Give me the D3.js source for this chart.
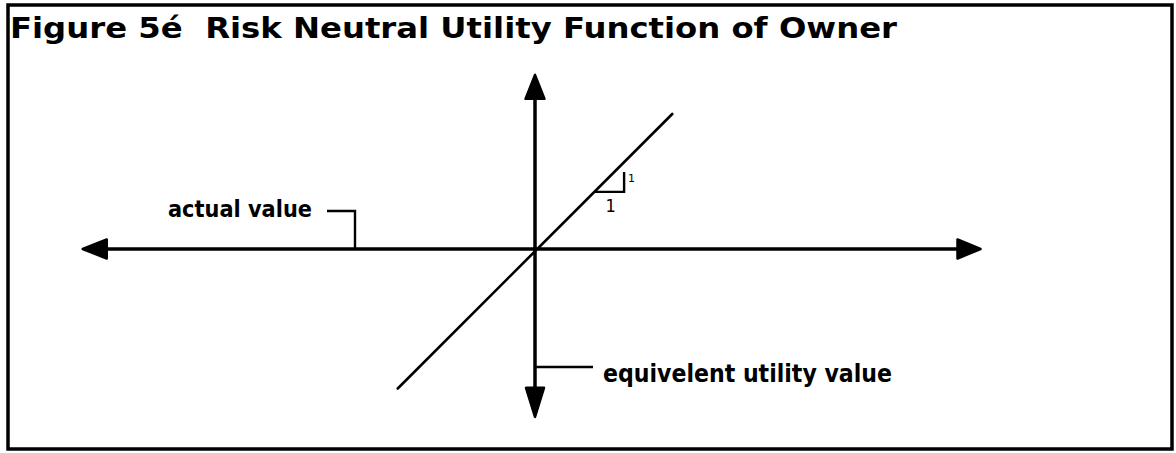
<!DOCTYPE html>
<html>
<head>
<meta charset="utf-8">
<script src="https://cdn.jsdelivr.net/npm/d3@7"></script>
<style>
  html, body { margin: 0; padding: 0; background: #fff; }
  svg { display: block; }
</style>
</head>
<body>
<svg id="chart" width="1176" height="453"></svg>
<script>
// ---- data ----
const titleText = "Figure 5é  Risk Neutral Utility Function of Owner";
const xAxisLabel = "actual value";
const yAxisLabel = "equivelent utility value";
const xAxisExtent = [-10.05, 9.9];   // actual value axis (units)
const yAxisExtent = [-3.73, 3.87];   // utility axis (units)
const utilityLine = [ { x: -3.05, y: -3.1 }, { x: 3.05, y: 3.0 } ]; // U = x (slope 1)
const slopeRun = [1.33, 1.98];       // horizontal leg of slope marker
const slopeRise = [1.27, 1.71];      // vertical leg of slope marker
const slopeLabels = ["1", "1"];

// ---- layout ----
const W = 1176, H = 453;
const unit = 45;
const origin = { x: 535, y: 249 };
const x = d3.scaleLinear().domain([0, 1]).range([origin.x, origin.x + unit]);
const y = d3.scaleLinear().domain([0, 1]).range([origin.y, origin.y - unit]);

const svg = d3.select("#chart");

// frame
svg.append("rect")
  .attr("x", 8).attr("y", 5)
  .attr("width", 1164).attr("height", 444)
  .attr("fill", "none").attr("stroke", "#000").attr("stroke-width", 3.5);

// title
svg.append("text")
  .attr("x", 10).attr("y", 38)
  .attr("font-family", "DejaVu Sans")
  .attr("font-weight", "bold")
  .attr("font-size", 28)
  .attr("textLength", 887)
  .attr("lengthAdjust", "spacingAndGlyphs")
  .attr("xml:space", "preserve")
  .style("white-space", "pre")
  .text(titleText);

const g = svg.append("g");

// arrowheads (filled triangles)
function arrowHead(tipX, tipY, dir, len, half) {
  let pts;
  if (dir === "left") pts = [[tipX, tipY], [tipX + len, tipY - half], [tipX + len, tipY + half]];
  if (dir === "right") pts = [[tipX, tipY], [tipX - len, tipY - half], [tipX - len, tipY + half]];
  if (dir === "up") pts = [[tipX, tipY], [tipX - half, tipY + len], [tipX + half, tipY + len]];
  if (dir === "down") pts = [[tipX, tipY], [tipX - half, tipY - len], [tipX + half, tipY - len]];
  g.append("path")
    .attr("d", "M" + pts.map(p => p.join(",")).join("L") + "Z")
    .attr("fill", "#000").attr("stroke", "#000").attr("stroke-width", 2.5)
    .attr("stroke-linejoin", "round");
}

// horizontal axis
g.append("line")
  .attr("x1", x(xAxisExtent[0]) + 10).attr("x2", x(xAxisExtent[1]) - 10)
  .attr("y1", y(0)).attr("y2", y(0))
  .attr("stroke", "#000").attr("stroke-width", 3.5);
arrowHead(x(xAxisExtent[0]), y(0), "left", 24, 9.5);
arrowHead(x(xAxisExtent[1]), y(0), "right", 23, 9.5);

// vertical axis
g.append("line")
  .attr("x1", x(0)).attr("x2", x(0))
  .attr("y1", y(yAxisExtent[1]) + 10).attr("y2", y(yAxisExtent[0]) - 10)
  .attr("stroke", "#000").attr("stroke-width", 3.5);
arrowHead(x(0), y(yAxisExtent[1]), "up", 24, 9.5);
arrowHead(x(0), y(yAxisExtent[0]), "down", 29, 9);

// utility line
g.append("path")
  .datum(utilityLine)
  .attr("d", d3.line().x(d => x(d.x)).y(d => y(d.y)))
  .attr("fill", "none").attr("stroke", "#000").attr("stroke-width", 2.6)
  .attr("stroke-linecap", "round");

// slope marker
g.append("path")
  .attr("d", `M${x(slopeRun[0])},${y(slopeRise[0])}L${x(slopeRun[1])},${y(slopeRise[0])}L${x(slopeRun[1])},${y(slopeRise[1])}`)
  .attr("fill", "none").attr("stroke", "#000").attr("stroke-width", 2.4);
g.append("text")
  .attr("x", x(slopeRun[1]) + 4).attr("y", y(slopeRise[1]) + 10)
  .attr("font-family", "DejaVu Sans").attr("font-size", 11)
  .text(slopeLabels[0]);
g.append("text")
  .attr("x", (x(slopeRun[0]) + x(slopeRun[1])) / 2 - 4).attr("y", y(slopeRise[0]) + 20)
  .attr("font-family", "DejaVu Sans Condensed").attr("font-size", 18)
  .text(slopeLabels[1]);

// actual value label with leader
g.append("text")
  .attr("x", 168).attr("y", 217)
  .attr("font-family", "DejaVu Sans").attr("font-weight", "bold").attr("font-size", 23)
  .attr("textLength", 144).attr("lengthAdjust", "spacingAndGlyphs")
  .text(xAxisLabel);
g.append("path")
  .attr("d", `M327,211L355,211L355,${y(0)}`)
  .attr("fill", "none").attr("stroke", "#000").attr("stroke-width", 2.4);

// equivalent utility value label with leader
g.append("text")
  .attr("x", 603).attr("y", 382)
  .attr("font-family", "DejaVu Sans").attr("font-weight", "bold").attr("font-size", 24)
  .attr("textLength", 289).attr("lengthAdjust", "spacingAndGlyphs")
  .text(yAxisLabel);
g.append("line")
  .attr("x1", x(0)).attr("x2", 593)
  .attr("y1", 367).attr("y2", 367)
  .attr("stroke", "#000").attr("stroke-width", 2.4);
</script>
</body>
</html>
